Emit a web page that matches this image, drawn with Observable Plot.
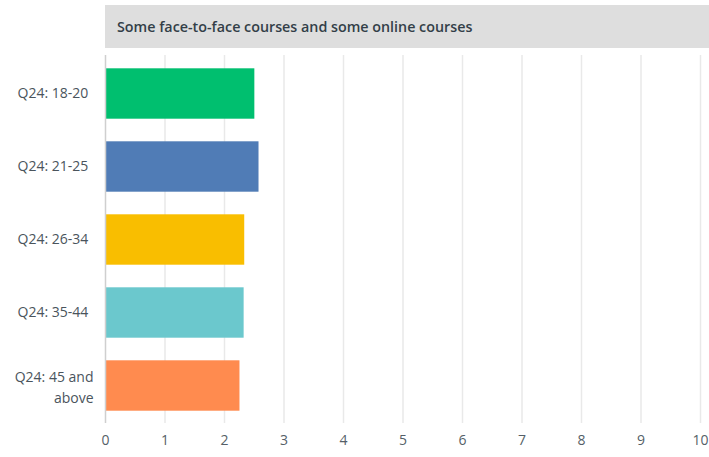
<!DOCTYPE html>
<html><head><meta charset="utf-8">
<script src="https://cdn.jsdelivr.net/npm/d3@7"></script>
<script src="https://cdn.jsdelivr.net/npm/@observablehq/plot@0.6"></script>
<style>
body{margin:0;background:#fff;font-family:"Open Sans","Noto Sans",sans-serif;}
#hdr{margin:5px 0 0 105px;width:604px;height:43px;background:#dedede;box-sizing:border-box;padding-left:12px;line-height:43px;font-weight:600;font-size:14.3px;color:#333e48;white-space:nowrap;}
</style></head>
<body>
<div id="hdr">Some face-to-face courses and some online courses</div>
<div id="chart"></div>
<script>
const title = "Some face-to-face courses and some online courses";
const categories = ["Q24: 18-20", "Q24: 21-25", "Q24: 26-34", "Q24: 35-44", "Q24: 45 and above"];
const values = [2.51, 2.58, 2.34, 2.33, 2.26];
const colors = ["#00bf6f", "#507cb6", "#f9be00", "#6bc8cd", "#ff8b4f"];
const xTicks = [0,1,2,3,4,5,6,7,8,9,10];
const data = categories.map((c,i)=>({cat:c, value:values[i], color:colors[i]}));
const labelMap = {"Q24: 45 and above": "Q24: 45 and\nabove"};
const chart = Plot.plot({
  width: 709, height: 409,
  marginTop: 7, marginBottom: 34, marginLeft: 105, marginRight: 9,
  style: {fontFamily: "'Open Sans', 'Noto Sans', sans-serif", fontSize: "14px", color: "#333e48", overflow: "visible"},
  x: {domain: [0,10], ticks: xTicks, label: null},
  y: {domain: categories, padding: 0, label: null},
  marks: [
    Plot.ruleX(xTicks.slice(1), {stroke: "#e9e9e9", strokeWidth: 1.5}),
    Plot.barX(data, {y: "cat", x: "value", fill: "color", insetTop: 11.3, insetBottom: 11.3}),
    Plot.ruleY([0], {frameAnchor: "bottom", stroke: "#e0e0e0", strokeWidth: 2}),
    Plot.ruleX([0], {stroke: "#cfcfcf", strokeWidth: 1.5}),
    Plot.axisX({ticks: xTicks, tickSize: 0, tickPadding: 12, fill: "#555f68", fontSize: 14}),
    Plot.axisY({ticks: categories.slice(0,4), tickSize: 0, tickPadding: 88, textAnchor: "start", fill: "#4a545c", fontSize: 14}),
    Plot.axisY({ticks: categories.slice(4), tickSize: 0, tickPadding: 12, textAnchor: "end", fill: "#4a545c", fontSize: 14, lineHeight: 1.5, tickFormat: d => labelMap[d] || d})
  ]
});
document.getElementById("chart").appendChild(chart);
</script>
</body></html>
